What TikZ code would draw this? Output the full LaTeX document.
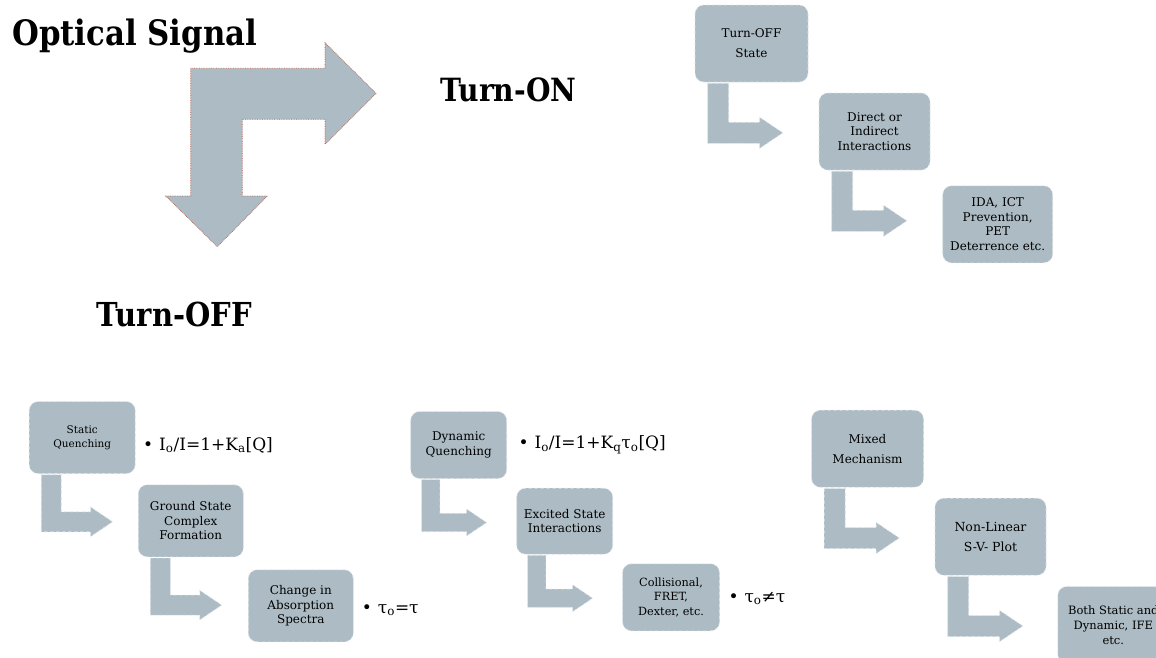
\documentclass[tikz,border=0pt]{standalone}
\usepackage{fontspec}
\setmainfont{DejaVu Serif}
\newfontfamily\titlefont[FakeStretch=0.88]{DejaVu Serif}
\definecolor{boxfill}{HTML}{ADBCC4}
\definecolor{boxedge}{HTML}{DCE3E7}
\definecolor{bigedge}{HTML}{B5614F}
\begin{document}
\begin{tikzpicture}[x=1pt,y=-1pt,
  box/.style={rectangle, rounded corners=9pt, fill=boxfill, draw=boxedge, dashed,
    line width=0.6pt, inner sep=0pt, align=center, font=\fontsize{12}{14.5}\selectfont},
  title/.style={font=\titlefont\bfseries\fontsize{33}{40}\selectfont, anchor=base west, inner sep=0pt},
  eq/.style={font=\fontsize{17}{20}\selectfont, anchor=west, inner sep=0pt},
  bentshape/.style={fill=boxfill, draw=boxedge, dashed, line width=0.6pt},
  bent/.pic={\path[bentshape] (13,1) -- (13,61) -- (65,61) -- (65,66) -- (88,50.5)
      -- (65,35) -- (65,40) -- (34,40) -- (34,1) -- cycle;}
]
\clip (0,0) rectangle (1156,657);
\fill[white] (0,0) rectangle (1156,657);

% titles
\node[title, font=\titlefont\bfseries\fontsize{35}{40}\selectfont] (tsig) at (12,45) {Optical Signal};
\node[title, font=\titlefont\bfseries\fontsize{32}{40}\selectfont] (ton) at (440,101.7) {Turn-ON};
\node[title] (toff) at (96.7,326.7) {Turn-OFF};

% big bent arrow
\path[fill=boxfill, draw=bigedge, densely dotted, line width=0.7pt]
  (190.7,68.3) -- (325,68.3) -- (325,42.7) -- (376,93.3) -- (325,144.3) -- (325,119.3)
  -- (242.3,119.3) -- (242.3,196) -- (267.3,196) -- (217.3,246.7) -- (165.7,196)
  -- (190.7,196) -- cycle;

% Turn-ON group
\node[box, minimum width=113pt, minimum height=77pt, font=\fontsize{12}{20}\selectfont] (off) at (751.5,43.5) {Turn-OFF\\State};
\node[box, minimum width=111pt, minimum height=77pt] (dir) at (874.5,131.5) {Direct or\\Indirect\\Interactions};
\node[box, minimum width=110pt, minimum height=77pt] (ida) at (997.7,224.3) {IDA, ICT\\Prevention,\\PET\\Deterrence etc.};
\pic[scale=1.0] at (off.south west) {bent};
\pic[scale=1.0] at (dir.south west) {bent};

% Static group
\node[box, minimum width=106pt, minimum height=72pt, font=\fontsize{10.5}{14.3}\selectfont] (stat) at (82.2,437.5) {Static\\Quenching};
\node[box, minimum width=105pt, minimum height=72pt] (gsc) at (190.8,520.8) {Ground State\\Complex\\Formation};
\node[box, minimum width=105pt, minimum height=72pt] (cia) at (300.8,605.8) {Change in\\Absorption\\Spectra};
\pic[scale=0.95] at (stat.south west) {bent};
\pic[scale=0.95] at (gsc.south west) {bent};
\node[eq] (eqs) at (143,445) {•\hspace{6pt}I\textsubscript{o}/I=1+K\textsubscript{a}[Q]};
\node[eq] (taus) at (361.7,610) {•\hspace{6pt}τ\textsubscript{o}=τ};

% Dynamic group
\node[box, minimum width=96pt, minimum height=67pt] (dyn) at (458.7,445) {Dynamic\\Quenching};
\node[box, minimum width=96pt, minimum height=66pt] (exc) at (564.7,521.2) {Excited State\\Interactions};
\node[box, minimum width=97pt, minimum height=67pt, font=\fontsize{11.3}{14.5}\selectfont] (col) at (671,597.3) {Collisional,\\FRET,\\Dexter, etc.};
\pic[scale=0.865] at (dyn.south west) {bent};
\pic[scale=0.865] at (exc.south west) {bent};
\node[eq] (eqd) at (518.3,445) {•\hspace{6pt}I\textsubscript{o}/I=1+K\textsubscript{q}τ\textsubscript{o}[Q]};
\node[eq] (taud) at (728.3,598.3) {•\hspace{6pt}τ\textsubscript{o}≠τ};

% Mixed group
\node[box, minimum width=112pt, minimum height=77pt, font=\fontsize{12}{20}\selectfont] (mix) at (867.5,448.7) {Mixed\\Mechanism};
\node[box, minimum width=111pt, minimum height=77pt, font=\fontsize{12.5}{20}\selectfont] (nl) at (990.5,536.7) {Non-Linear\\S-V- Plot};
\node[box, minimum width=111pt, minimum height=77pt, font=\fontsize{11.5}{15}\selectfont] (both) at (1113.3,625) {Both Static and\\Dynamic, IFE\\etc.};
\pic[scale=1.0] at (mix.south west) {bent};
\pic[scale=1.0] at (nl.south west) {bent};
\end{tikzpicture}
\end{document}
